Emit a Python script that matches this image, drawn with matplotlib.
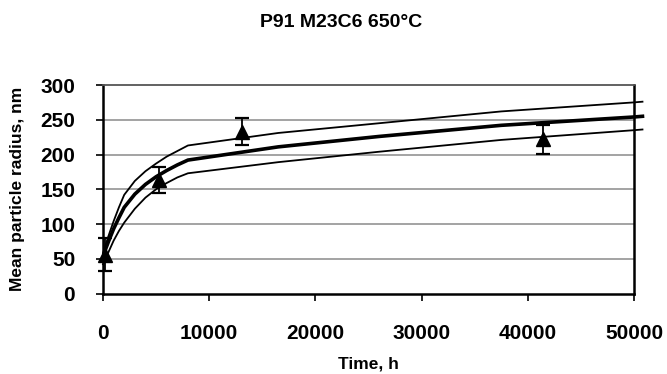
import matplotlib
matplotlib.use("Agg")
import matplotlib.pyplot as plt

plt.rcParams['font.family'] = ['Liberation Sans', 'DejaVu Sans']

# Measured mean particle radius (nm) with scatter
meas_time = [200, 5300, 13050, 41450]
meas_radius = [56, 163, 233, 222]
meas_err = [24, 19, 20, 21]

# Model curves: central prediction and upper/lower bounds
model_time = [0, 250, 500, 1000, 1500, 2000, 3000, 4000, 5000, 6000, 7000,
              8000, 16500, 26000, 37500, 50000, 50800]
model_mid = [50, 64, 74, 93, 109, 124, 143, 157, 168, 177, 185,
             192, 211, 226, 242, 254, 255]
model_upper = [58, 70, 82, 104, 124, 142, 162, 176, 187, 197, 205,
               213, 231, 245, 262, 275, 276]
model_lower = [42, 51, 59, 76, 90, 102, 122, 138, 150, 159, 167,
               173, 189, 204, 221, 235, 236]

x_ticks = [0, 10000, 20000, 30000, 40000, 50000]
y_ticks = [0, 50, 100, 150, 200, 250, 300]

fig = plt.figure(figsize=(6.67, 3.74), dpi=100)
ax = fig.add_axes([0.1544, 0.2152, 0.7961, 0.5575])

for y in y_ticks[1:-1]:
    ax.axhline(y, color='#8a8a8a', lw=1.1, zorder=1)

ax.plot(model_time, model_upper, color='black', lw=1.3, clip_on=False, zorder=3)
ax.plot(model_time, model_lower, color='black', lw=1.3, clip_on=False, zorder=3)
ax.plot(model_time, model_mid, color='black', lw=2.6, clip_on=False, zorder=3)

ax.errorbar(meas_time, meas_radius, yerr=meas_err, fmt='^', color='black',
            ms=10, ecolor='black', elinewidth=1.3, capsize=5, capthick=1.6,
            zorder=4, clip_on=False)

ax.set_xlim(0, 50000)
ax.set_ylim(0, 300)
ax.set_xticks(x_ticks)
ax.set_yticks(y_ticks)
ax.tick_params(axis='both', direction='out', length=5, width=1.2,
               labelsize=15)
ax.tick_params(axis='x', pad=17)
ax.tick_params(axis='y', pad=15)
for lbl in ax.get_xticklabels() + ax.get_yticklabels():
    lbl.set_fontweight('bold')

for side in ['left', 'bottom', 'right']:
    ax.spines[side].set_linewidth(1.8)
    ax.spines[side].set_color('black')
ax.spines['top'].set_linewidth(1.3)
ax.spines['top'].set_color('#555555')

ax.set_xlabel('Time, h', fontsize=12.5, fontweight='bold', labelpad=10)
ax.set_ylabel('Mean particle radius, nm', fontsize=12.5, fontweight='bold',
              labelpad=11)
fig.text(0.511, 0.94, 'P91 M23C6 650°C', fontsize=14, fontweight='bold',
         ha='center', va='center')

fig.savefig('out.png', dpi=100)
